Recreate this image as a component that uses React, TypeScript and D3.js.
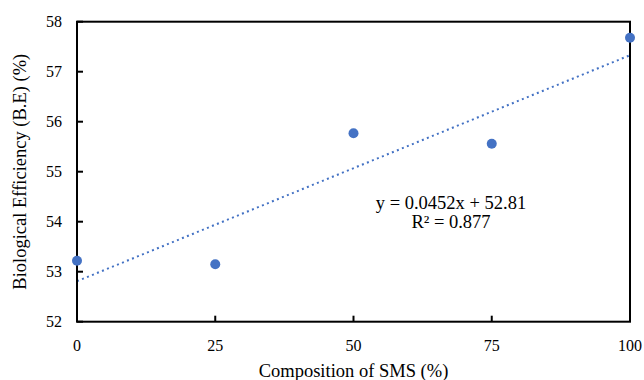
import React, { useRef, useEffect } from 'react';
import * as d3 from 'd3';

const composition = [0, 25, 50, 75, 100];
const efficiency = [53.22, 53.15, 55.77, 55.56, 57.68];
const xTicks = [0, 25, 50, 75, 100];
const yTicks = [52, 53, 54, 55, 56, 57, 58];
const slope = 0.0452;
const intercept = 52.81;
const equationLines = ['y = 0.0452x + 52.81', 'R² = 0.877'];

const W = 644;
const H = 380;
const FONT = '"Liberation Serif", "Times New Roman", serif';

const App = () => {
  const ref = useRef<SVGSVGElement>(null);

  useEffect(() => {
    document.body.style.margin = '0';
    const svg = d3.select(ref.current);
    svg.selectAll('*').remove();

    const left = 77, right = 630, top = 21.7, bottom = 321.7;
    const x = d3.scaleLinear().domain([0, 100]).range([left, right]);
    const y = d3.scaleLinear().domain([52, 58]).range([bottom, top]);

    // trendline
    svg.append('line')
      .attr('x1', x(0)).attr('y1', y(intercept))
      .attr('x2', x(100)).attr('y2', y(intercept + slope * 100))
      .attr('stroke', '#4472C4')
      .attr('stroke-width', 2)
      .attr('stroke-dasharray', '2 3.4');

    // box
    svg.append('rect')
      .attr('x', left).attr('y', top)
      .attr('width', right - left).attr('height', bottom - top)
      .attr('fill', 'none')
      .attr('stroke', '#000')
      .attr('stroke-width', 2);

    // ticks (inside)
    svg.append('g').selectAll('line').data(yTicks).join('line')
      .attr('x1', left).attr('x2', left + 6)
      .attr('y1', d => y(d)).attr('y2', d => y(d))
      .attr('stroke', '#000').attr('stroke-width', 2);
    svg.append('g').selectAll('line').data(xTicks).join('line')
      .attr('x1', d => x(d)).attr('x2', d => x(d))
      .attr('y1', bottom).attr('y2', bottom - 6)
      .attr('stroke', '#000').attr('stroke-width', 2);

    // tick labels
    svg.append('g').selectAll('text').data(yTicks).join('text')
      .attr('x', left - 15).attr('y', d => y(d))
      .attr('dy', '0.35em')
      .attr('text-anchor', 'end')
      .style('font-family', FONT).style('font-size', '16px')
      .text(d => d);
    svg.append('g').selectAll('text').data(xTicks).join('text')
      .attr('x', d => x(d)).attr('y', bottom + 29)
      .attr('text-anchor', 'middle')
      .style('font-family', FONT).style('font-size', '16px')
      .text(d => d);

    // points
    svg.append('g').selectAll('circle').data(composition).join('circle')
      .attr('cx', d => x(d))
      .attr('cy', (d, i) => y(efficiency[i]))
      .attr('r', 5)
      .attr('fill', '#4472C4');

    // equation
    svg.append('g').selectAll('text').data(equationLines).join('text')
      .attr('x', 451).attr('y', (d, i) => 209 + i * 19)
      .attr('text-anchor', 'middle')
      .style('font-family', FONT).style('font-size', '18.5px')
      .text(d => d);

    // axis titles
    svg.append('text')
      .attr('x', (left + right) / 2).attr('y', 377)
      .attr('text-anchor', 'middle')
      .style('font-family', FONT).style('font-size', '18.5px')
      .text('Composition of SMS (%)');
    svg.append('text')
      .attr('transform', `translate(26, ${(top + bottom) / 2}) rotate(-90)`)
      .attr('text-anchor', 'middle')
      .style('font-family', FONT).style('font-size', '18.5px')
      .text('Biological Efficiency (B.E) (%)');
  }, []);

  return <svg ref={ref} width={W} height={H} style={{ display: 'block', background: '#fff' }} />;
};

export default App;
